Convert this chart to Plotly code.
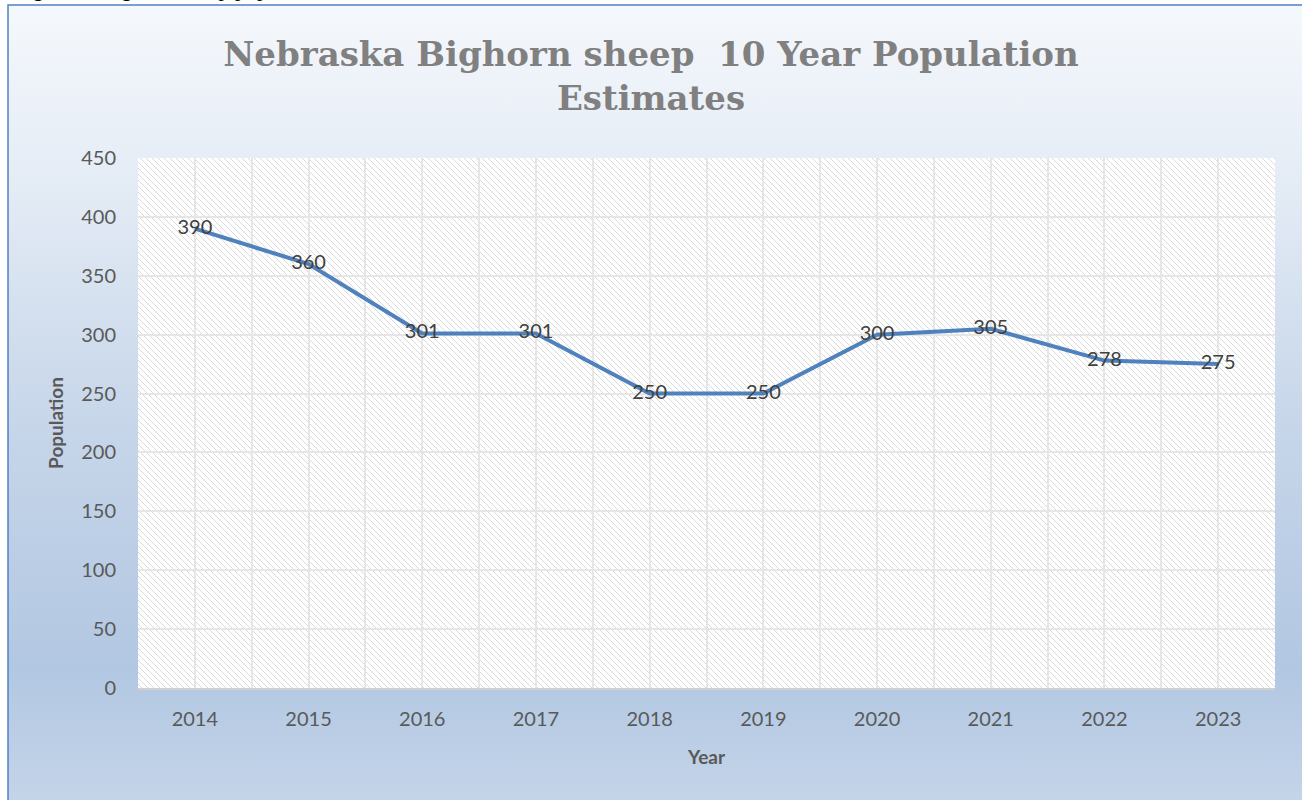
import base64
import plotly.graph_objects as go

# ---- data ----
years = ["2014", "2015", "2016", "2017", "2018", "2019", "2020", "2021", "2022", "2023"]
population = [390, 360, 301, 301, 250, 250, 300, 305, 278, 275]
y_ticks = [0, 50, 100, 150, 200, 250, 300, 350, 400, 450]

title_text = "Nebraska Bighorn sheep  10 Year Population<br>Estimates"
caption_text = "Figure 2: Bighorn sheep population estimates"

W, H = 1302, 800
L, R, T, B = 138, 27, 158, 112
PW, PH = W - L - R, H - T - B

# ---- background (gradient chart area + hatched plot area) as SVG ----
svg = f"""<svg xmlns='http://www.w3.org/2000/svg' width='{W}' height='{H}' viewBox='0 0 {W} {H}'>
<defs>
<linearGradient id='g' x1='0' y1='0' x2='0' y2='1'>
<stop offset='0' stop-color='#f5f8fc'/>
<stop offset='0.2' stop-color='#e6edf6'/>
<stop offset='0.5' stop-color='#c8d7ea'/>
<stop offset='0.82' stop-color='#b2c7e2'/>
<stop offset='1' stop-color='#c6d6ea'/>
</linearGradient>
<pattern id='h' patternUnits='userSpaceOnUse' width='6' height='6'>
<rect width='6' height='6' fill='#ffffff'/>
<path d='M0,0 L6,6 M-1,5 L1,7 M5,-1 L7,1' stroke='#dadada' stroke-width='1'/>
</pattern>
</defs>
<rect x='0' y='0' width='{W}' height='{H}' fill='#ffffff'/>
<rect x='8' y='5' width='{W+10}' height='{H+10}' fill='url(#g)' stroke='#4f81bd' stroke-width='1.5'/>
<rect x='{L}' y='{T}' width='{PW}' height='{PH}' fill='url(#h)'/>
</svg>"""
src = "data:image/svg+xml;base64," + base64.b64encode(svg.encode()).decode()

xs = list(range(len(years)))

fig = go.Figure()
fig.add_trace(go.Scatter(
    x=xs, y=population, mode="lines+text",
    text=[str(v) for v in population], textposition="middle center",
    textfont=dict(family="Lato", size=20, color="#404040"),
    line=dict(color="#4f81bd", width=4),
    cliponaxis=False, hoverinfo="skip", showlegend=False,
))

fig.update_layout(
    width=W, height=H,
    margin=dict(l=L, r=R, t=T, b=B),
    paper_bgcolor="#ffffff",
    plot_bgcolor="rgba(0,0,0,0)",
    images=[dict(source=src, xref="paper", yref="paper",
                 x=-L / PW, y=1 + T / PH, sizex=W / PW, sizey=H / PH,
                 xanchor="left", yanchor="top", sizing="stretch", layer="below")],
    title=dict(text=title_text, x=0.5, xanchor="center", y=1 - 66 / H, yanchor="bottom",
               font=dict(family="DejaVu Serif", size=34, color="#808080", weight="bold")),
    font=dict(family="Lato", color="#595959"),
    annotations=[dict(text=f"<i>{caption_text}</i>", xref="paper", yref="paper",
                      x=-L / PW + 12 / PW, y=1 + (T - 3) / PH, xanchor="left", yanchor="bottom",
                      showarrow=False, font=dict(family="Liberation Serif", size=22, color="#000000"))],
)

fig.update_xaxes(
    range=[-0.5, len(years) - 0.5],
    tickmode="array", tickvals=xs, ticktext=years,
    tickfont=dict(family="Lato", size=20, color="#595959"),
    ticks="", ticklabelstandoff=12,
    showgrid=True, gridcolor="#e6e6e6", gridwidth=2,
    minor=dict(tick0=-0.5, dtick=1, showgrid=True, gridcolor="#e6e6e6", gridwidth=2),
    showline=True, linecolor="#d0d0d0", linewidth=2,
    zeroline=False, fixedrange=True,
    title=dict(text="<b>Year</b>", font=dict(family="Lato", size=19, color="#595959"), standoff=22),
)
fig.update_yaxes(
    range=[0, 450], tickmode="array", tickvals=y_ticks,
    tickfont=dict(family="Lato", size=20, color="#595959"),
    ticks="", ticklabelstandoff=21,
    showgrid=True, gridcolor="#e6e6e6", gridwidth=2,
    zeroline=False, showline=False, fixedrange=True,
    title=dict(text="<b>Population</b>", font=dict(family="Lato", size=19, color="#595959"), standoff=12),
)

fig.write_html("out.html", config={"displayModeBar": False},
               post_script="document.body.style.margin='0';")
